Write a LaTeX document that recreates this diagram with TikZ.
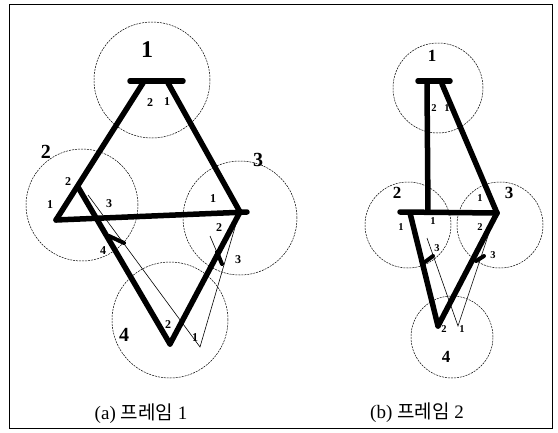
\documentclass[tikz,border=0pt]{standalone}
\usepackage{fontspec}
\setmainfont{Liberation Serif}
\newfontfamily\krfont{Noto Sans CJK KR}
\begin{document}
\begin{tikzpicture}[x=1pt,y=-1pt,
  circ/.style={draw, circle, inner sep=0pt, line width=0.5pt, dash pattern=on 2pt off 1pt},
  rod/.style={line width=5.5pt, line cap=round},
  barb/.style={line width=4pt, line cap=round},
  thinrod/.style={line width=0.6pt},
  big/.style={font=\bfseries\fontsize{20}{20}\selectfont, inner sep=0pt},
  small/.style={font=\bfseries\fontsize{12}{12}\selectfont, inner sep=0pt},
  bsmall/.style={font=\bfseries\fontsize{10.5}{10.5}\selectfont, inner sep=0pt},
  bbig/.style={font=\bfseries\fontsize{17}{17}\selectfont, inner sep=0pt},
  captext/.style={font=\fontsize{19}{19}\selectfont, inner sep=0pt}]
\useasboundingbox (0,0) rectangle (558,432);
\draw[line width=1pt] (9,4) rectangle (552,428);

% ---------- frame (a) ----------
\node[circ, minimum size=116pt] (A1) at (152,80) {};
\node[circ, minimum size=112pt] (A2) at (82,205) {};
\node[circ, minimum size=114pt] (A3) at (240,218) {};
\node[circ, minimum size=116pt] (A4) at (170,320) {};

\coordinate (a1l) at (130,81);
\coordinate (a1r) at (183,81);
\coordinate (a1p) at (143,83);
\coordinate (a1q) at (168,83);
\coordinate (a2l) at (56,220);
\coordinate (a2u) at (78,187);
\coordinate (a3j) at (240,212);
\coordinate (a3e) at (247,212);
\coordinate (a4v) at (170,344);
\coordinate (a2t) at (88,195);
\coordinate (a4t) at (200,347);
\coordinate (a3t) at (238,217);
\coordinate (ab1s) at (109,236);
\coordinate (ab1e) at (124,243);
\coordinate (ab2s) at (217,252);
\coordinate (ab2e) at (222,264);

\draw[thinrod] (a2t) -- (a4t) -- (a3t);
\draw[thinrod] (ab2e) -- ([xshift=-12pt,yshift=28pt]ab2e);
\draw[rod] (a1l) -- (a1r);
\draw[rod] (a1p) -- (a2l);
\draw[rod] (a1q) -- (a3j);
\draw[rod] (a2l) -- (a3e);
\draw[rod] (a2u) -- (a4v);
\draw[rod] (a3j) -- (a4v);
\draw[barb] (ab1s) -- (ab1e);
\draw[barb] (ab2s) -- (ab2e);

\node[big, font=\bfseries\fontsize{24}{24}\selectfont] (La1) at (147,50) {1};
\node[big] (La2) at (46,152) {2};
\node[big] (La3) at (258,160) {3};
\node[big] (La4) at (124,335) {4};
\node[small] (a1n2) at (150,103) {2};
\node[small] (a1n1) at (167,102) {1};
\node[small] (a2n1) at (50,205) {1};
\node[small] (a2n2) at (68,182) {2};
\node[small] (a2n3) at (109,204) {3};
\node[small] (a2n4) at (103,251) {4};
\node[small] (a3n1) at (213,199) {1};
\node[small] (a3n2) at (219,228) {2};
\node[small] (a3n3) at (238,260) {3};
\node[small] (a4n2) at (168,325) {2};
\node[small] (a4n1) at (195,338) {1};

\node[captext] (capa) at (141,414) {(a) {\krfont 프레임} 1};

% ---------- frame (b) ----------
\node[circ, minimum size=90pt] (B1) at (438,88) {};
\node[circ, minimum size=86pt] (B2) at (408,225) {};
\node[circ, minimum size=86pt] (B3) at (500,225) {};
\node[circ, minimum size=82pt] (B4) at (452,337) {};

\coordinate (b1l) at (418,81);
\coordinate (b1r) at (450,81);
\coordinate (b1p) at (427,84);
\coordinate (b1q) at (442,84);
\coordinate (b2j) at (428,212);
\coordinate (b2l) at (400,212);
\coordinate (b2s) at (410,213);
\coordinate (b3j) at (497,213);
\coordinate (b4v) at (438,326);
\coordinate (b2t) at (427,238);
\coordinate (b4t) at (458,326);
\coordinate (b3t) at (490,230);
\coordinate (bb1s) at (425,262);
\coordinate (bb1e) at (433,256);
\coordinate (bb2s) at (476,261);
\coordinate (bb2e) at (484,256);

\draw[thinrod] (b2t) -- (b4t) -- (b3t);
\draw[rod] (b1l) -- (b1r);
\draw[rod] (b1p) -- (b2j);
\draw[rod] (b1q) -- (b3j);
\draw[rod] (b2l) -- (b3j);
\draw[rod] (b2s) -- (b4v);
\draw[rod] (b3j) -- (b4v);
\draw[barb] (bb1s) -- (bb1e);
\draw[barb] (bb2s) -- (bb2e);

\node[bbig] (Lb1) at (432,56) {1};
\node[bbig] (Lb2) at (397,193) {2};
\node[bbig] (Lb3) at (509,193) {3};
\node[bbig] (Lb4) at (446,357) {4};
\node[bsmall] (b1n2) at (434,108) {2};
\node[bsmall] (b1n1) at (447,108) {1};
\node[bsmall] (b2n1) at (401,227) {1};
\node[bsmall] (b2m1) at (433,221) {1};
\node[bsmall] (b2n3) at (437,248) {3};
\node[bsmall] (b3n1) at (480,198) {1};
\node[bsmall] (b3n2) at (480,227) {2};
\node[bsmall] (b3n3) at (493,255) {3};
\node[bsmall] (b4n2) at (444,329) {2};
\node[bsmall] (b4n1) at (462,329) {1};

\node[captext] (capb) at (417,413) {(b) {\krfont 프레임} 2};
\end{tikzpicture}
\end{document}
